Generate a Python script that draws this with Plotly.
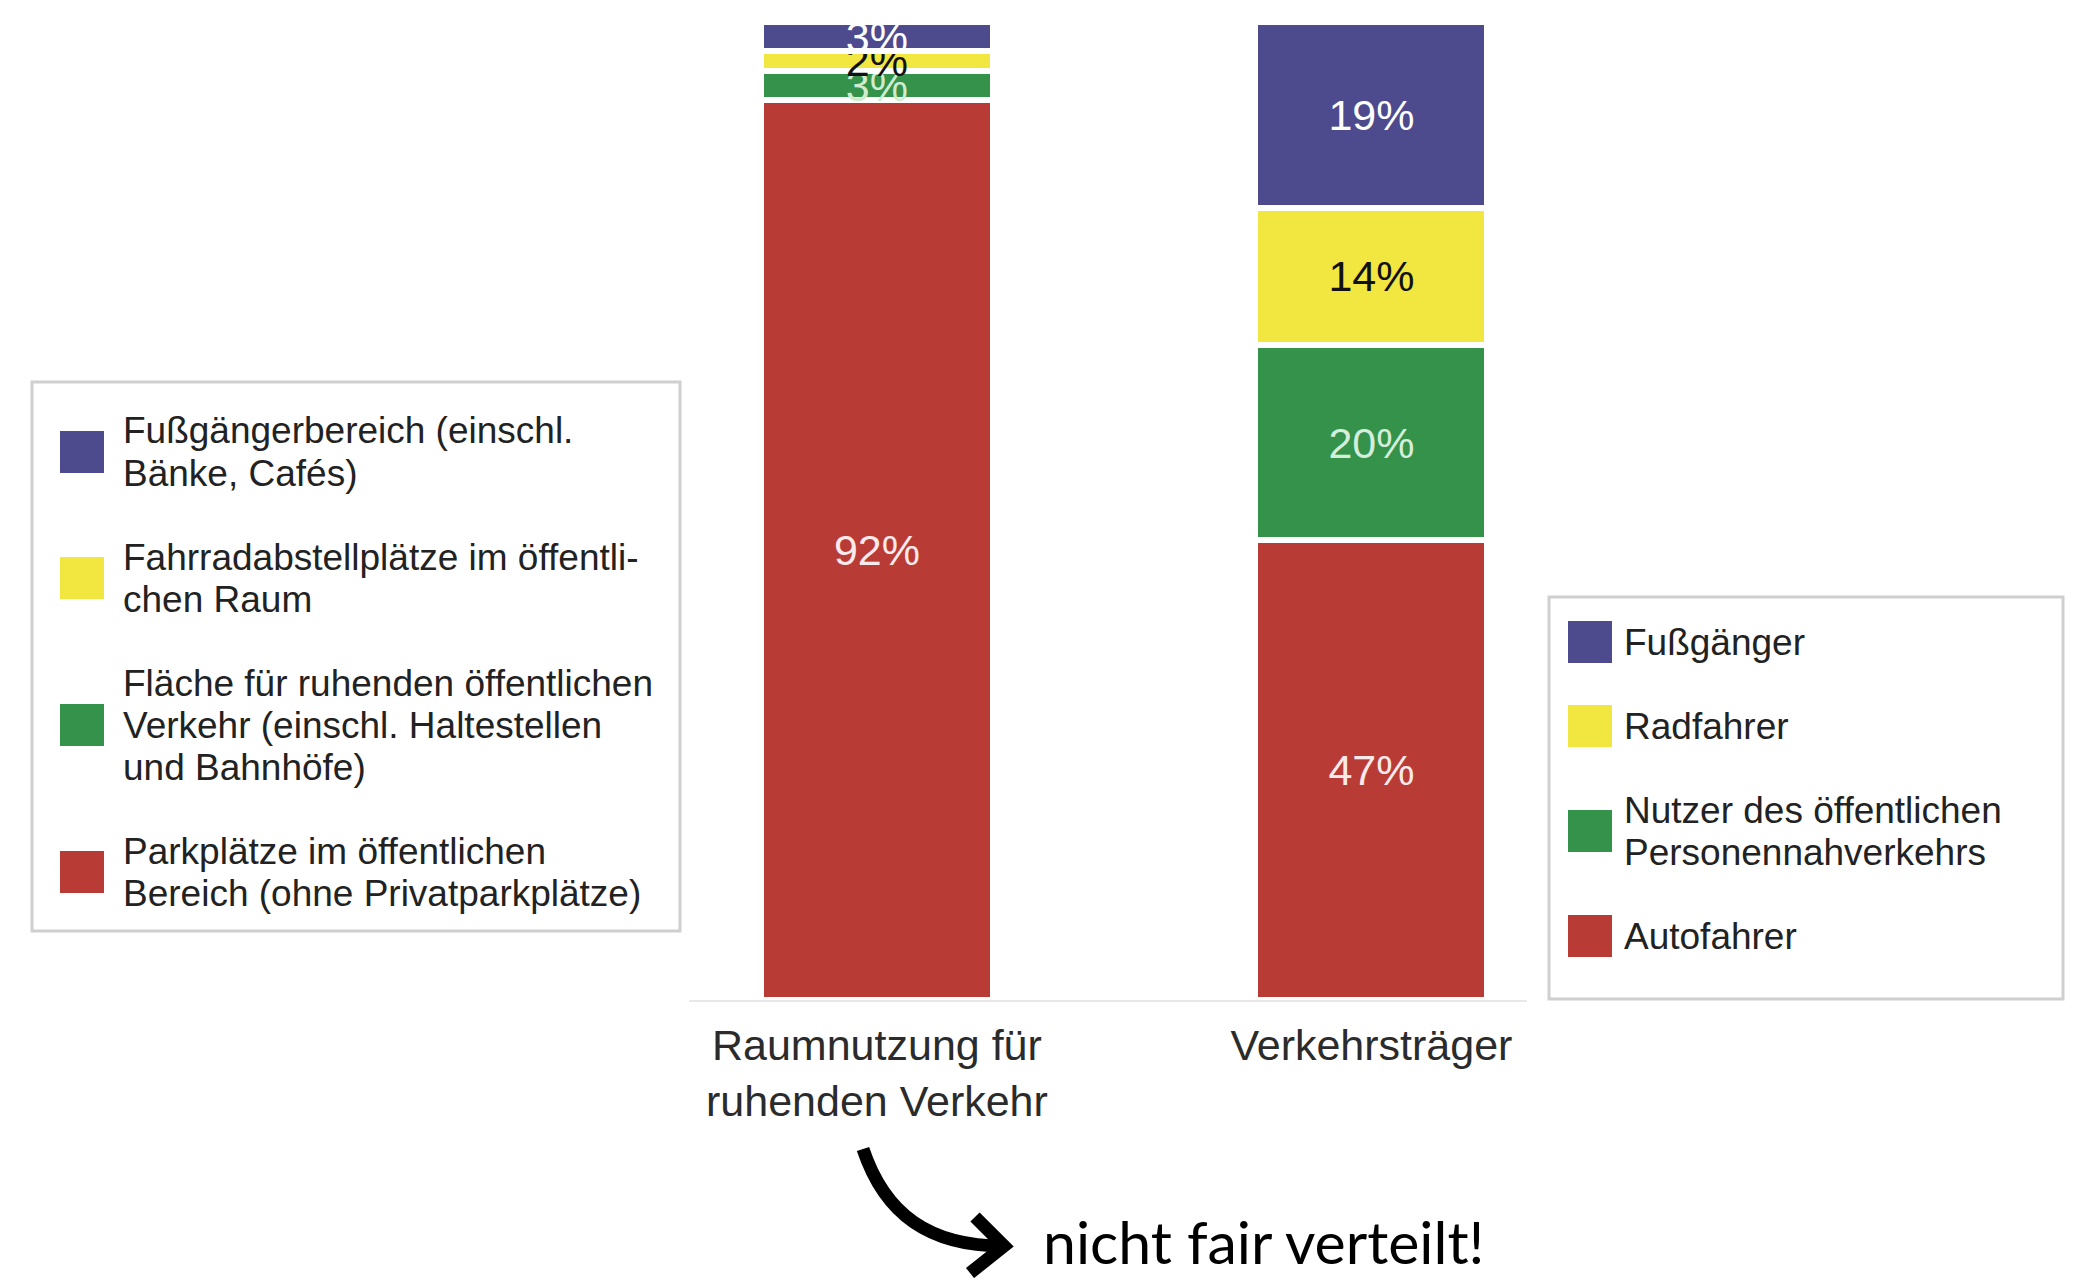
import plotly.graph_objects as go

# ---------------- data ----------------
categories = ["Raumnutzung für<br>ruhenden Verkehr", "Verkehrsträger"]

# listed top-to-bottom as in the legends
left_names = [
    "Fußgängerbereich (einschl.<br>Bänke, Cafés)",
    "Fahrradabstellplätze im öffentli-<br>chen Raum",
    "Fläche für ruhenden öffentlichen<br>Verkehr (einschl. Haltestellen<br>und Bahnhöfe)",
    "Parkplätze im öffentlichen<br>Bereich (ohne Privatparkplätze)",
]
left_values = [3, 2, 3, 92]

right_names = [
    "Fußgänger",
    "Radfahrer",
    "Nutzer des öffentlichen<br>Personennahverkehrs",
    "Autofahrer",
]
right_values = [19, 14, 20, 47]

colors = ["#4d4a8d", "#f2e640", "#34924a", "#b93b36"]
text_colors_left = ["#ffffff", "#111111", "#cfeccf", "#f8eaea"]
text_colors_right = ["#ffffff", "#111111", "#d4eedb", "#f8eaea"]

note_text = "nicht fair verteilt!"

# ---------------- layout geometry ----------------
# the page body has an 8px margin, so the figure is drawn 8px in from the
# window's top-left corner; geometry below is given in window pixels.
OFF = 8
W, H = 2094 - 2 * OFF, 1286 - 2 * OFF
PLOT_LEFT, PLOT_RIGHT, PLOT_TOP, PLOT_BOTTOM = 689, 1527, 22, 1000  # window px
PL = PLOT_LEFT - OFF
PR = W - (PLOT_RIGHT - OFF)
PT = PLOT_TOP - OFF
PB = H - (PLOT_BOTTOM - OFF)
plot_w = PLOT_RIGHT - PLOT_LEFT
plot_h = PLOT_BOTTOM - PLOT_TOP


def px(x):
    return (x - PLOT_LEFT) / plot_w


def py(y):
    return (PLOT_BOTTOM - y) / plot_h


FONT = "Liberation Sans, Arial, sans-serif"

fig = go.Figure()

# stacked bars: bottom series first
for names, values, cat, tcols in [
    (left_names, left_values, categories[0], text_colors_left),
    (right_names, right_values, categories[1], text_colors_right),
]:
    for i in reversed(range(len(values))):
        fig.add_trace(
            go.Bar(
                x=[cat],
                y=[values[i]],
                name=names[i].replace("<br>", " "),
                marker=dict(color=colors[i], line=dict(color="white", width=6)),
                width=0.469,
                text=[f"{values[i]}%"],
                textposition="inside",
                insidetextanchor="middle",
                textangle=0,
                constraintext="none",
                textfont=dict(family=FONT, size=43, color=tcols[i]),
                cliponaxis=False,
                showlegend=False,
            )
        )

fig.update_layout(
    width=W,
    height=H,
    barmode="stack",
    plot_bgcolor="white",
    paper_bgcolor="white",
    margin=dict(l=PL, r=PR, t=PT, b=PB, pad=0),
    showlegend=False,
    xaxis=dict(
        type="category",
        categoryorder="array",
        categoryarray=categories,
        range=[-0.380, 1.3146],
        showline=True,
        linecolor="#e8e8e8",
        linewidth=2,
        showgrid=False,
        zeroline=False,
        ticks="",
        ticklabelstandoff=6,
        tickfont=dict(family=FONT, size=43, color="#2b2b2b"),
    ),
    yaxis=dict(
        range=[0, 100],
        showticklabels=False,
        showgrid=False,
        zeroline=False,
        showline=False,
        ticks="",
    ),
)

shapes = []
annotations = []


def draw_legend(box, names, sw_x, text_x, first_line_y, line_pitch=42, item_gap=42):
    x0, y0, x1, y1 = box
    shapes.append(
        dict(
            type="rect", xref="paper", yref="paper",
            x0=px(x0), x1=px(x1), y0=py(y1), y1=py(y0),
            line=dict(color="#cfcfcf", width=3), fillcolor="white", layer="below",
        )
    )
    y = first_line_y
    for i, name in enumerate(names):
        lines = name.split("<br>")
        n = len(lines)
        centre = y + (n - 1) * line_pitch / 2
        shapes.append(
            dict(
                type="rect", xref="paper", yref="paper",
                x0=px(sw_x), x1=px(sw_x + 44),
                y0=py(centre + 21), y1=py(centre - 21),
                line=dict(width=0), fillcolor=colors[i],
            )
        )
        for k, ln in enumerate(lines):
            annotations.append(
                dict(
                    xref="paper", yref="paper",
                    x=px(text_x), y=py(y + k * line_pitch),
                    xanchor="left", yanchor="middle",
                    text=ln, showarrow=False,
                    font=dict(family=FONT, size=37, color="#222222"),
                )
            )
        y += n * line_pitch + item_gap


draw_legend((32, 382, 680, 931), left_names, 60, 121, 431)
draw_legend((1549, 597, 2063, 999), right_names, 1568, 1622, 642)

# curved arrow
curve = "M {},{} C {},{} {},{} {},{}".format(
    px(863), py(1149), px(885), py(1215), px(930), py(1246), px(1003), py(1246)
)
head = "M {},{} L {},{} L {},{}".format(
    px(975), py(1217), px(1004), py(1246), px(970), py(1273)
)
for p in (curve, head):
    shapes.append(
        dict(type="path", xref="paper", yref="paper", path=p,
             line=dict(color="black", width=13))
    )

annotations.append(
    dict(
        xref="paper", yref="paper", x=px(1042), y=py(1241),
        xanchor="left", yanchor="middle", text=note_text, showarrow=False,
        borderpad=0,
        font=dict(family="Lato, Open Sans, sans-serif", size=59, color="black"),
    )
)

fig.update_layout(shapes=shapes, annotations=annotations)

fig.write_html("out.html")
